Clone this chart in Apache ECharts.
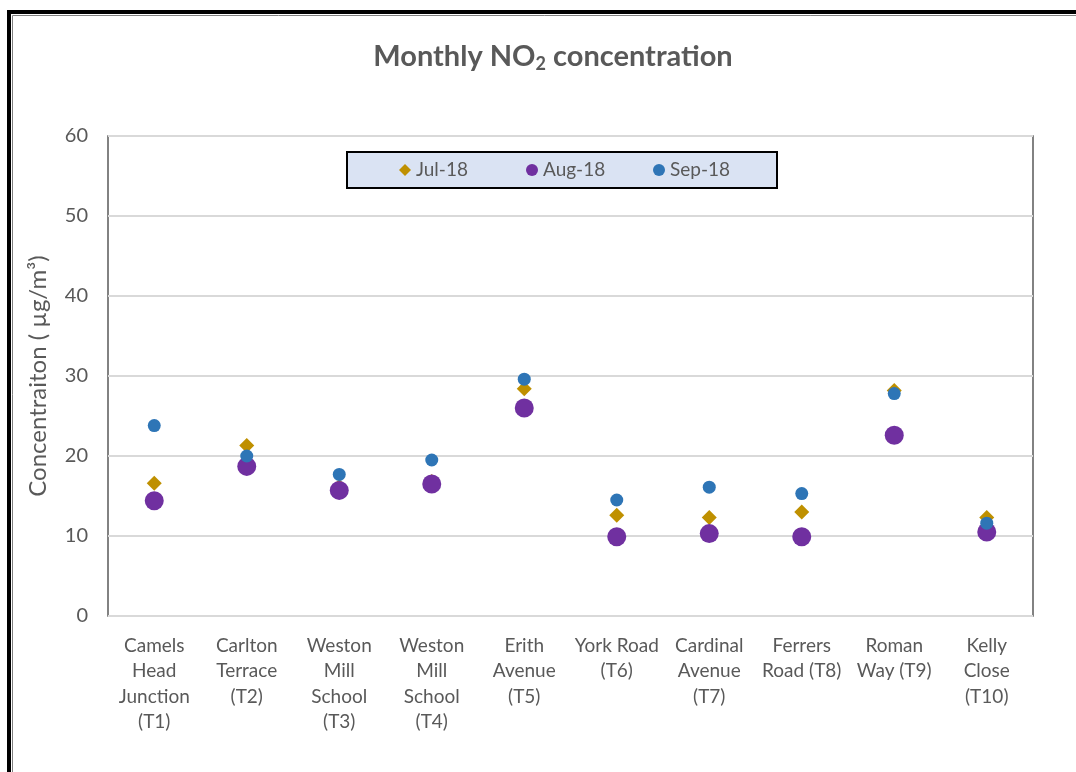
<!DOCTYPE html>
<html>
<head>
<meta charset="utf-8">
<title>Monthly NO2 concentration</title>
<script src="https://cdn.jsdelivr.net/npm/echarts@6/dist/echarts.min.js"></script>
<style>
  html, body { margin: 0; padding: 0; background: #fff; }
  #chart { width: 1076px; height: 772px; }
</style>
</head>
<body>
<div id="chart"></div>
<script>
// Sites (x axis categories)
const sites = [
  'Camels\nHead\nJunction\n(T1)',
  'Carlton\nTerrace\n(T2)',
  'Weston\nMill\nSchool\n(T3)',
  'Weston\nMill\nSchool\n(T4)',
  'Erith\nAvenue\n(T5)',
  'York Road\n(T6)',
  'Cardinal\nAvenue\n(T7)',
  'Ferrers\nRoad (T8)',
  'Roman\nWay (T9)',
  'Kelly\nClose\n(T10)'
]

// Monthly concentrations, µg/m³
const jul18 = [16.6, 21.3, 16.2, 16.8, 28.4, 12.6, 12.3, 13.0, 28.2, 12.3]
const aug18 = [14.4, 18.7, 15.7, 16.5, 26.0, 9.9, 10.3, 9.9, 22.6, 10.5]
const sep18 = [23.8, 20.0, 17.7, 19.5, 29.6, 14.5, 16.1, 15.3, 27.8, 11.6]

const yTicks = { min: 0, max: 60, interval: 10 }

const FONT = 'Lato, "Liberation Sans", sans-serif'
const GREY = '#595959'

const chart = echarts.init(document.getElementById('chart'))

const option = {
  backgroundColor: '#fff',
  animation: false,
  textStyle: { fontFamily: FONT },
  title: {
    text: 'Monthly NO{sub|2} concentration',
    left: 548,
    textAlign: 'center',
    top: 36,
    textStyle: {
      fontFamily: FONT,
      fontSize: 29,
      fontWeight: 'bold',
      color: GREY,
      rich: {
        sub: {
          fontFamily: FONT,
          fontSize: 18,
          fontWeight: 'bold',
          color: GREY,
          verticalAlign: 'bottom',
          padding: [14, 0, 0, 0]
        }
      }
    }
  },
  legend: {
    left: 347,
    top: 152,
    orient: 'horizontal',
    backgroundColor: '#dae3f3',
    borderColor: '#000',
    borderWidth: 2,
    borderRadius: 0,
    padding: [7, 7, 7, 52],
    itemGap: 10,
    itemWidth: 12,
    itemHeight: 12,
    itemTextGap: 5,
    textStyle: {
      fontFamily: FONT,
      fontSize: 19,
      color: GREY,
      width: 100,
      lineHeight: 22
    },
    data: [
      { name: 'Jul-18', icon: 'diamond' },
      { name: 'Aug-18', icon: 'circle' },
      { name: 'Sep-18', icon: 'circle' }
    ]
  },
  grid: {
    left: 108,
    right: 43,
    top: 136,
    bottom: 156,
    show: true,
    borderColor: GREY,
    borderWidth: 1.5,
    backgroundColor: 'transparent'
  },
  xAxis: {
    type: 'category',
    data: sites,
    boundaryGap: true,
    axisLine: { show: false },
    axisTick: { show: false },
    splitLine: { show: false },
    axisLabel: {
      interval: 0,
      margin: 17,
      fontFamily: FONT,
      fontSize: 19,
      lineHeight: 25.5,
      color: GREY,
      align: 'center',
      verticalAlign: 'top'
    }
  },
  yAxis: {
    type: 'value',
    min: yTicks.min,
    max: yTicks.max,
    interval: yTicks.interval,
    name: 'Concentraiton ( µg/m³)',
    nameLocation: 'middle',
    nameGap: 58,
    nameTextStyle: {
      fontFamily: FONT,
      fontSize: 24,
      color: GREY
    },
    axisLine: { show: false },
    axisTick: { show: false },
    axisLabel: {
      margin: 20,
      fontFamily: FONT,
      fontSize: 20,
      color: GREY
    },
    splitLine: {
      lineStyle: { color: '#d9d9d9', width: 2 }
    }
  },
  series: [
    {
      name: 'Jul-18',
      type: 'scatter',
      data: jul18,
      symbol: 'diamond',
      symbolSize: [15, 15],
      itemStyle: { color: '#bf9000', opacity: 1 }
    },
    {
      name: 'Aug-18',
      type: 'scatter',
      data: aug18,
      symbol: 'circle',
      symbolSize: 19,
      itemStyle: { color: '#7030a0', opacity: 1 }
    },
    {
      name: 'Sep-18',
      type: 'scatter',
      data: sep18,
      symbol: 'circle',
      symbolSize: 13,
      itemStyle: { color: '#2e75b6', opacity: 1 }
    }
  ],
  // outer chart frame (cut off at the right and bottom of the picture)
  graphic: [
    {
      type: 'rect',
      silent: true,
      shape: { x: 9, y: 12, width: 1100, height: 800 },
      style: { fill: null, stroke: '#000', lineWidth: 4 }
    },
    {
      type: 'rect',
      silent: true,
      shape: { x: 12.5, y: 15.5, width: 1100, height: 800 },
      style: { fill: null, stroke: '#808080', lineWidth: 1 }
    }
  ]
}

chart.setOption(option)

window.addEventListener('resize', () => chart.resize())
</script>
</body>
</html>
